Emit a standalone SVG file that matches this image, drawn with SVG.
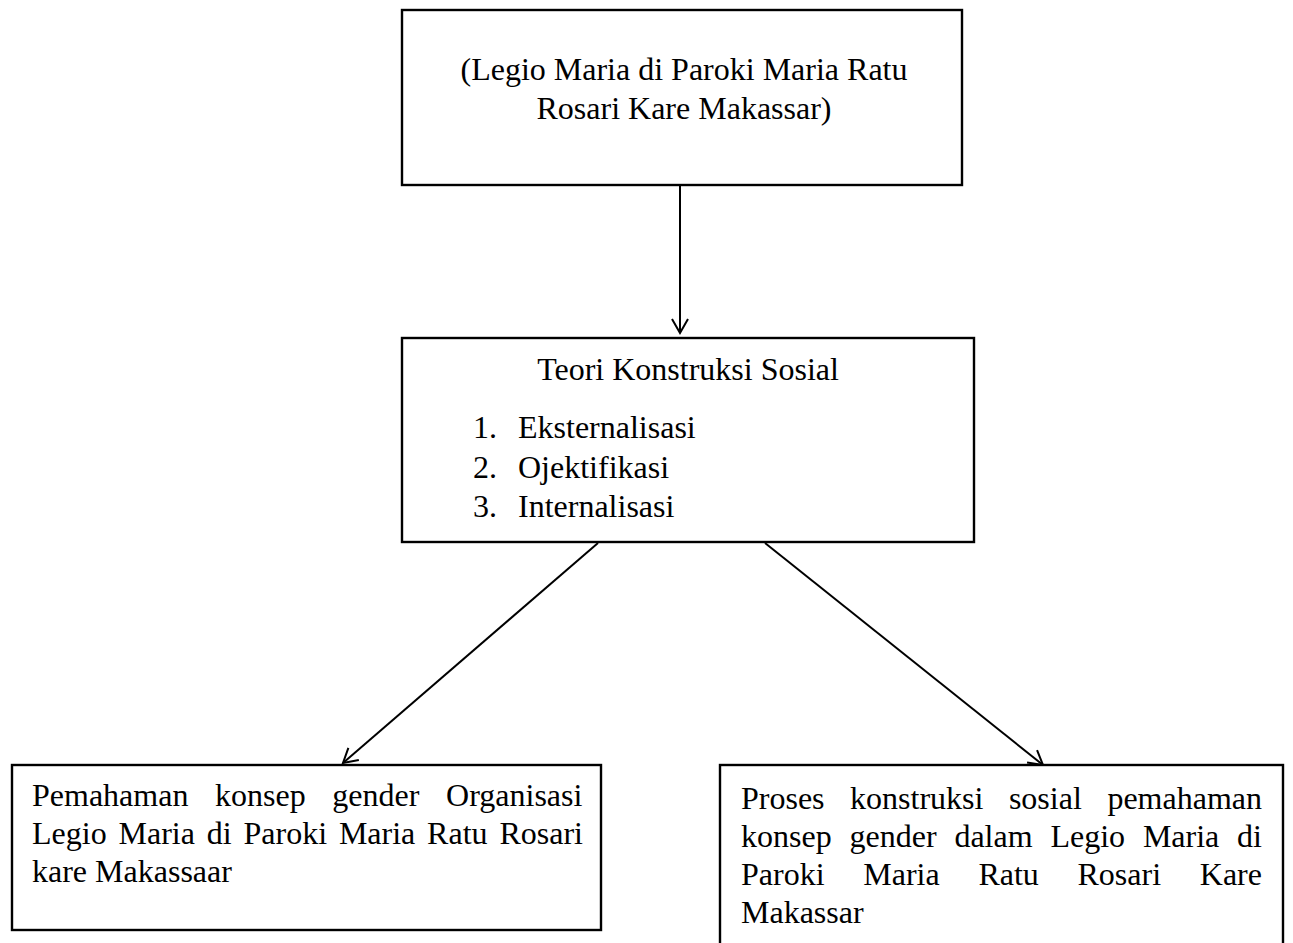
<svg xmlns="http://www.w3.org/2000/svg" width="1293" height="943" viewBox="0 0 1293 943">
<defs>
<marker id="arr" markerWidth="20" markerHeight="20" refX="16" refY="10" orient="auto" markerUnits="userSpaceOnUse">
<path d="M2,2 L16,10 L2,18" fill="none" stroke="#000" stroke-width="2"/>
</marker>
<style>
.box{fill:#fff;stroke:#000;stroke-width:2.4}
.t{font-family:"Liberation Serif","Times New Roman",serif;font-size:32px;fill:#000}
.c{text-anchor:middle}
.ln{stroke:#000;stroke-width:2;fill:none;marker-end:url(#arr)}
</style>
</defs>
<rect width="1293" height="943" fill="#fff"/>
<g id="connectors">
<line class="ln" x1="680" y1="185" x2="680" y2="333"/>
<line class="ln" x1="598" y1="543" x2="343" y2="763"/>
<line class="ln" x1="765" y1="543" x2="1043" y2="765"/>
</g>
<g id="top">
<rect class="box" x="402" y="10" width="560" height="175"/>
<text class="t c" x="684" y="80">(Legio Maria di Paroki Maria Ratu</text>
<text class="t c" x="684" y="119">Rosari Kare Makassar)</text>
</g>
<g id="teori">
<rect class="box" x="402" y="338" width="572" height="204"/>
<text class="t c" x="688" y="380">Teori Konstruksi Sosial</text>
<text class="t" x="473" y="438">1.</text><text class="t" x="518" y="438">Eksternalisasi</text>
<text class="t" x="473" y="478">2.</text><text class="t" x="518" y="478">Ojektifikasi</text>
<text class="t" x="473" y="517">3.</text><text class="t" x="518" y="517">Internalisasi</text>
</g>
<g id="left">
<rect class="box" x="12" y="765" width="589" height="165"/>
<text class="t" y="806"><tspan x="32">Pemahaman</tspan><tspan x="215">konsep</tspan><tspan x="332.3">gender</tspan><tspan x="446.1">Organisasi</tspan></text>
<text class="t" y="844"><tspan x="32">Legio</tspan><tspan x="118.5">Maria</tspan><tspan x="206.7">di</tspan><tspan x="243.5">Paroki</tspan><tspan x="338.9">Maria</tspan><tspan x="427.1">Ratu</tspan><tspan x="499.4">Rosari</tspan></text>
<text class="t" x="32" y="882">kare Makassaar</text>
</g>
<g id="right">
<rect class="box" x="720" y="765" width="563" height="190"/>
<text class="t" y="809"><tspan x="741">Proses</tspan><tspan x="850.1">konstruksi</tspan><tspan x="1008.9">sosial</tspan><tspan x="1107.4">pemahaman</tspan></text>
<text class="t" y="847"><tspan x="741">konsep</tspan><tspan x="849.5">gender</tspan><tspan x="954.4">dalam</tspan><tspan x="1050.4">Legio</tspan><tspan x="1142.9">Maria</tspan><tspan x="1237.1">di</tspan></text>
<text class="t" y="885"><tspan x="741">Paroki</tspan><tspan x="863.3">Maria</tspan><tspan x="978.4">Ratu</tspan><tspan x="1077.5">Rosari</tspan><tspan x="1199.8">Kare</tspan></text>
<text class="t" x="741" y="923">Makassar</text>
</g>
</svg>
